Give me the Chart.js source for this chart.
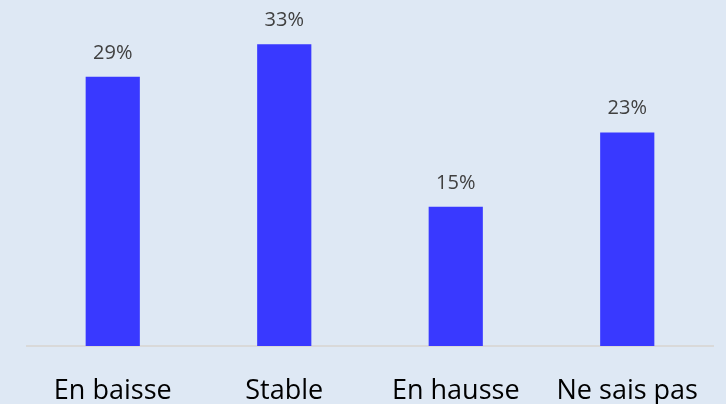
<!DOCTYPE html>
<html>
<head>
<meta charset="utf-8">
<script src="https://cdn.jsdelivr.net/npm/chart.js@4"></script>
<style>
  html, body { margin: 0; padding: 0; background: #DEE8F4; }
  #wrap { width: 726px; height: 404px; position: relative; }
</style>
</head>
<body>
<div id="wrap"><canvas id="c" width="726" height="404"></canvas></div>
<script>
const categories = ["En baisse", "Stable", "En hausse", "Ne sais pas"];
const values = [29, 32.5, 15, 23];

const barColor = "#3939FF";

const valueLabels = {
  id: "valueLabels",
  afterDatasetsDraw(chart) {
    const ctx = chart.ctx;
    const meta = chart.getDatasetMeta(0);
    ctx.save();
    ctx.font = '20px "Open Sans"';
    ctx.fillStyle = "#404040";
    ctx.textAlign = "center";
    ctx.textBaseline = "alphabetic";
    meta.data.forEach((bar, i) => {
      ctx.fillText(Math.round(values[i]) + "%", bar.x, bar.y - 18);
    });
    ctx.restore();
  }
};

new Chart(document.getElementById("c"), {
  type: "bar",
  data: {
    labels: categories,
    datasets: [{
      data: values,
      backgroundColor: barColor,
      borderWidth: 0,
      categoryPercentage: 1,
      barPercentage: 0.316
    }]
  },
  options: {
    responsive: false,
    animation: false,
    layout: { padding: { left: 27, right: 13, top: 21, bottom: 0 } },
    plugins: { legend: { display: false }, tooltip: { enabled: false } },
    scales: {
      x: {
        grid: { display: false, drawTicks: false },
        border: { display: true, color: "#D9D9D9", width: 2 },
        ticks: {
          color: "#000000",
          font: { family: "Open Sans", size: 27 },
          padding: 29,
          maxRotation: 0,
          autoSkip: false
        },
        afterFit(scale) {
          scale.height = 58;
          scale.paddingLeft = 0;
          scale.paddingRight = 0;
        }
      },
      y: {
        display: false,
        min: 0,
        max: 35
      }
    }
  },
  plugins: [valueLabels, {
    id: "bg",
    beforeDraw(chart) {
      const ctx = chart.ctx;
      ctx.save();
      ctx.fillStyle = "#DEE8F4";
      ctx.fillRect(0, 0, chart.width, chart.height);
      ctx.restore();
    }
  }]
});
</script>
</body>
</html>
